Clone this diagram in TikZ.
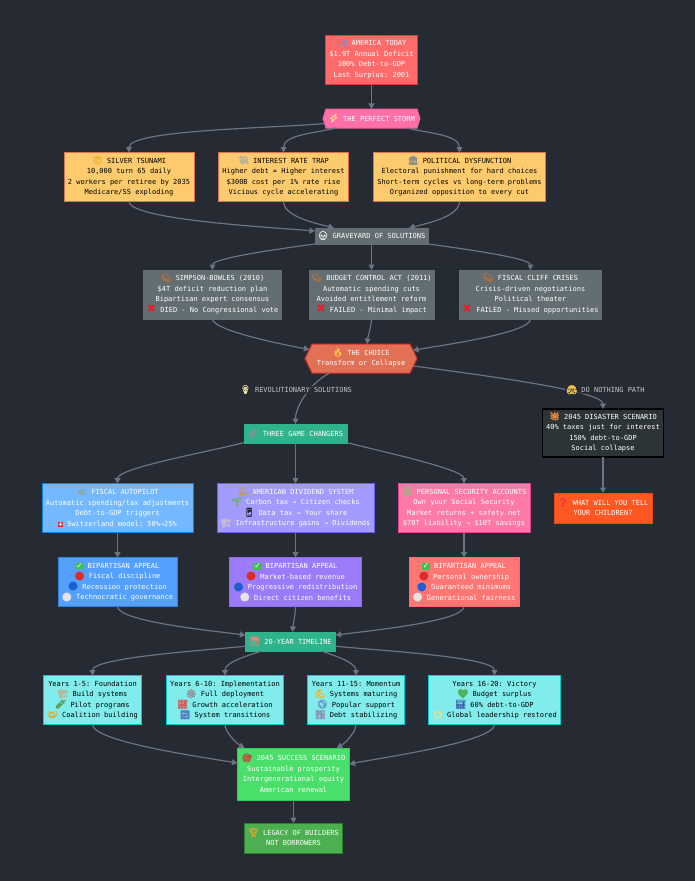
\documentclass[tikz,border=0pt]{standalone}
\usepackage{fontspec}
\setmonofont{DejaVu Sans Mono}
\newfontfamily\emojifont[FakeBold=1.6]{Noto Emoji}
\newfontfamily\markfont{DejaVu Sans}
\usetikzlibrary{arrows.meta,shapes.symbols}

\definecolor{bgdark}{HTML}{252A33}
\definecolor{edgegray}{HTML}{6B7485}
\definecolor{warnyellow}{HTML}{FDCB6E}
\definecolor{warnedge}{HTML}{E17055}
\definecolor{tombgray}{HTML}{636E72}
\definecolor{gamegreen}{HTML}{2FB38D}
\definecolor{yearcyan}{HTML}{81ECEC}
\definecolor{yearedge}{HTML}{00CEC9}
\definecolor{todayred}{HTML}{FF6B6B}
\definecolor{todayedge}{HTML}{E03A3A}
\definecolor{stormpink}{HTML}{FF6FA8}
\definecolor{stormedge}{HTML}{F560A0}
\definecolor{choiceedge}{HTML}{D63031}
\definecolor{doomdark}{HTML}{2D3436}
\definecolor{askorange}{HTML}{FF5722}
\definecolor{askedge}{HTML}{E64A19}
\definecolor{pilotblue}{HTML}{74B9FF}
\definecolor{pilotedge}{HTML}{0984E3}
\definecolor{divviolet}{HTML}{A29BFE}
\definecolor{divedge}{HTML}{6C5CE7}
\definecolor{secpink}{HTML}{FD79A8}
\definecolor{secedge}{HTML}{E84393}
\definecolor{appealblue}{HTML}{54A0FF}
\definecolor{appealblueedge}{HTML}{2E86DE}
\definecolor{appealviolet}{HTML}{9B7BFA}
\definecolor{appealvioletedge}{HTML}{8C6FF0}
\definecolor{appealred}{HTML}{FF7675}
\definecolor{winlight}{HTML}{4ADE6A}
\definecolor{winedge}{HTML}{35C956}
\definecolor{legacygreen}{HTML}{4CAF50}
\definecolor{legacyedge}{HTML}{2E7D32}
\newcommand{\emo}[2]{\smash{\textcolor[HTML]{#1}{\emojifont\fontsize{8.5}{10.5}\selectfont #2}}}
\newcommand{\okmark}{\smash{\fboxsep=.8pt\colorbox[HTML]{3CC24B}{\textcolor{white}{\markfont\fontsize{7.5}{7.5}\selectfont ✓}}}}
\newcommand{\nomark}{\smash{\textcolor[HTML]{E0202E}{\markfont\fontsize{11.5}{10.5}\selectfont\raisebox{-.8pt}{✖}}}}
\newcommand{\swissmark}{\smash{\fboxsep=.4pt\colorbox[HTML]{D52B1E}{\textcolor{white}{\markfont\fontsize{5}{6}\selectfont ✚}}}}
\newcommand{\ball}[1]{\smash{\textcolor[HTML]{#1}{\markfont\fontsize{11.5}{10.5}\selectfont\raisebox{-.5pt}{●}}}}
\newcommand{\redball}{\ball{E02A2A}}
\newcommand{\blueball}{\ball{1F5FD0}}
\newcommand{\whiteball}{\ball{E4E4E4}}

\tikzset{
  basebox/.style={rectangle,draw,line width=1pt,inner sep=0pt,outer sep=0pt,align=center,
    font=\ttfamily\fontsize{7}{10.5}\selectfont,minimum height=49pt},
  lightbox/.style 2 args={basebox,fill=#1,draw=#2,text=white},
  warnbox/.style={basebox,fill=warnyellow,draw=warnedge,text=black},
  tombbox/.style={basebox,fill=tombgray,draw=tombgray,text=white},
  yearbox/.style={basebox,fill=yearcyan,draw=yearedge,text=black},
  hexbox/.style={signal,signal to=east and west,draw,line width=1pt,inner sep=0pt,outer sep=0pt,align=center,
    font=\ttfamily\fontsize{7}{10.5}\selectfont},
  pathlabel/.style={font=\ttfamily\fontsize{7}{10.5}\selectfont,text=white!72!bgdark,inner sep=1pt,
    fill=bgdark,fill opacity=.7,text opacity=1},
  flow/.style={->,color=edgegray,line width=1.2pt}
}

\begin{document}
\begin{tikzpicture}[>={Triangle[length=5.5pt,width=6pt]},x=1pt,y=1pt]
  \fill[bgdark] (0,0) rectangle (695,-881);

  % top of the chart
  \node[lightbox={todayred}{todayedge},minimum width=92pt] (today) at (371.5,-59.5)
    {\emo{7C8FB8}{🇺🇸} AMERICA TODAY\\\$1.9T Annual Deficit\\100\% Debt-to-GDP\\Last Surplus: 2001};
  \node[hexbox,fill=stormpink,draw=stormedge,text=white,minimum width=97pt,minimum height=19pt,signal pointer angle=145]
    (storm) [below of=today,node distance=59pt] {\emo{FFE08A}{⚡} THE PERFECT STORM};

  \node[warnbox,minimum width=130pt] (tsunami) [below of=storm,node distance=58.5pt,xshift=-242.5pt]
    {\emo{E8B93A}{😰} SILVER TSUNAMI\\10,000 turn 65 daily\\2 workers per retiree by 2035\\Medicare/SS exploding};
  \node[warnbox,minimum width=130pt] (rate) [below of=storm,node distance=58.5pt,xshift=-88pt]
    {\emo{B9B39A}{💸} INTEREST RATE TRAP\\Higher debt = Higher interest\\\$300B cost per 1\% rate rise\\Vicious cycle accelerating};
  \node[warnbox,minimum width=172pt] (politics) [below of=storm,node distance=58.5pt,xshift=88pt]
    {\emo{8A8F8C}{🏛} POLITICAL DYSFUNCTION\\Electoral punishment for hard choices\\Short-term cycles vs long-term problems\\Organized opposition to every cut};

  \node[tombbox,minimum width=113pt,minimum height=16pt] (grave) [below of=storm,node distance=117.5pt]
    {\emo{F0F0F0}{💀} GRAVEYARD OF SOLUTIONS};
  \node[tombbox,minimum width=138pt] (simpson) [below of=grave,node distance=58.5pt,xshift=-159pt]
    {\emo{B5703A}{⚰} SIMPSON-BOWLES (2010)\\\$4T deficit reduction plan\\Bipartisan expert consensus\\\nomark{} DIED - No Congressional vote};
  \node[tombbox,minimum width=125pt] (budget) [below of=grave,node distance=58.5pt]
    {\emo{B5703A}{⚰} BUDGET CONTROL ACT (2011)\\Automatic spending cuts\\Avoided entitlement reform\\\nomark{} FAILED - Minimal impact};
  \node[tombbox,minimum width=142pt] (cliff) [below of=grave,node distance=58.5pt,xshift=159pt]
    {\emo{B5703A}{⚰} FISCAL CLIFF CRISES\\Crisis-driven negotiations\\Political theater\\\nomark{} FAILED - Missed opportunities};

  \node[hexbox,fill=warnedge,draw=choiceedge,text=white,minimum width=112pt,minimum height=29pt,signal pointer angle=128]
    (choice) [below of=budget,node distance=64pt,xshift=-10.5pt] {\emo{FFC04D}{🔥} THE CHOICE\\Transform or Collapse};

  % the two ways out
  \node[lightbox={gamegreen}{gamegreen},minimum width=103pt,minimum height=19pt] (game) [below of=choice,node distance=75pt,xshift=-65.5pt]
    {\emo{8D8D9A}{🚀} THREE GAME CHANGERS};
  \node[lightbox={doomdark}{black},line width=1.5pt,minimum width=121pt,minimum height=48pt] (disaster) [below of=choice,node distance=74.5pt,xshift=242pt]
    {\emo{F08A3C}{💥} 2045 DISASTER SCENARIO\\40\% taxes just for interest\\150\% debt-to-GDP\\Social collapse};
  \node[lightbox={askorange}{askedge},minimum width=98pt,minimum height=30pt] (question) [below of=disaster,node distance=75pt]
    {\emo{E53935}{❓} WHAT WILL YOU TELL\\YOUR CHILDREN?};

  \node[lightbox={pilotblue}{pilotedge},minimum width=151pt] (autopilot) [below of=game,node distance=74.5pt,xshift=-178pt]
    {\emo{8FA6A0}{🛸} FISCAL AUTOPILOT\\Automatic spending/tax adjustments\\Debt-to-GDP triggers\\\swissmark{} Switzerland model: 50\%→25\%};
  \node[lightbox={divviolet}{divedge},minimum width=157pt] (dividend) [below of=game,node distance=74.5pt]
    {\emo{C89B3C}{🔔} AMERICAN DIVIDEND SYSTEM\\\emo{6FAF5A}{🌱} Carbon tax → Citizen checks\\\emo{202428}{📱} Data tax → Your share\\\emo{C9B8D8}{🏗} Infrastructure gains → Dividends};
  \node[lightbox={secpink}{secedge},minimum width=132pt] (personal) [below of=game,node distance=74.5pt,xshift=168.5pt]
    {\emo{B0A78A}{🏦} PERSONAL SECURITY ACCOUNTS\\Own your Social Security\\Market returns + safety net\\\$70T liability → \$10T savings};

  \node[lightbox={appealblue}{appealblueedge},minimum width=119pt] (appeal1) [below of=autopilot,node distance=74pt]
    {\okmark{} BIPARTISAN APPEAL\\\redball{} Fiscal discipline\\\blueball{} Recession protection\\\whiteball{} Technocratic governance};
  \node[lightbox={appealviolet}{appealvioletedge},minimum width=132pt] (appeal2) [below of=dividend,node distance=74pt]
    {\okmark{} BIPARTISAN APPEAL\\\redball{} Market-based revenue\\\blueball{} Progressive redistribution\\\whiteball{} Direct citizen benefits};
  \node[lightbox={appealred}{todayred},minimum width=110pt] (appeal3) [below of=personal,node distance=74pt]
    {\okmark{} BIPARTISAN APPEAL\\\redball{} Personal ownership\\\blueball{} Guaranteed minimums\\\whiteball{} Generational fairness};

  % timeline and the end of it
  \node[lightbox={gamegreen}{gamegreen},minimum width=90pt,minimum height=19pt] (timeline) [below of=appeal2,node distance=59.5pt,xshift=-5pt]
    {\emo{D98A80}{📅} 20-YEAR TIMELINE};
  \node[yearbox,minimum width=98pt] (year1) [below of=timeline,node distance=58.5pt,xshift=-198pt]
    {Years 1-5: Foundation\\\emo{B8B89A}{🏗} Build systems\\\emo{5F9E5A}{🧪} Pilot programs\\\emo{E0A92E}{🤝} Coalition building};
  \node[yearbox,minimum width=117pt] (year2) [below of=timeline,node distance=58.5pt,xshift=-65.5pt]
    {Years 6-10: Implementation\\\emo{8A8F94}{⚙} Full deployment\\\emo{D9534F}{📈} Growth acceleration\\\emo{5B7FC0}{🔄} System transitions};
  \node[yearbox,minimum width=97pt] (year3) [below of=timeline,node distance=58.5pt,xshift=65.5pt]
    {Years 11-15: Momentum\\\emo{F0B429}{💪} Systems maturing\\\emo{6A9AC8}{🌍} Popular support\\\emo{8A8FB0}{📉} Debt stabilizing};
  \node[yearbox,minimum width=132pt] (year4) [below of=timeline,node distance=58.5pt,xshift=204pt]
    {Years 16-20: Victory\\\emo{4CAF50}{💚} Budget surplus\\\emo{3B5FA8}{📊} 60\% debt-to-GDP\\\emo{F7DE7A}{🌟} Global leadership restored};

  \node[lightbox={winlight}{winedge},minimum width=112pt,minimum height=52pt] (success) [below of=timeline,node distance=132.5pt,xshift=3pt]
    {\emo{C8443C}{🎯} 2045 SUCCESS SCENARIO\\Sustainable prosperity\\Intergenerational equity\\American renewal};
  \node[lightbox={legacygreen}{legacyedge},minimum width=98pt,minimum height=30pt] (legacy) [below of=success,node distance=64pt]
    {\emo{D9A52E}{🏆} LEGACY OF BUILDERS\\NOT BORROWERS};

  \path[flow] (today) edge (storm)
        (storm.186) edge [out=186,in=90,out looseness=.6,in looseness=.3] (tsunami.north)
        (storm.195) edge [out=195,in=90,looseness=.8] (rate.north)
        (storm.345) edge [out=345,in=90,looseness=.8] (politics.north)
        (tsunami.south) edge [out=-90,in=175,out looseness=.25,in looseness=.5] (grave.175)
        (rate.south) edge [out=-90,in=165,looseness=.7] (grave.168)
        (politics.south) edge [out=-90,in=15,looseness=.7] (grave.12)
        (grave.188) edge [out=188,in=90,out looseness=.6,in looseness=.3] (simpson.north)
        (grave) edge (budget)
        (grave.352) edge [out=352,in=90,out looseness=.6,in looseness=.3] (cliff.north)
        (simpson.south) edge [out=-90,in=170,out looseness=.3,in looseness=.5] (choice.170)
        (budget.south) edge [out=-90,in=85,looseness=.6] (choice.67)
        (cliff.south) edge [out=-90,in=10,out looseness=.3,in looseness=.5] (choice.9)
        (choice.205) edge [out=205,in=90,looseness=.8] (game.north)
        (choice.352) edge [out=352,in=90,out looseness=.7,in looseness=.25] (disaster.north)
        (disaster) edge (question)
        (game.190) edge [out=195,in=90,out looseness=.6,in looseness=.3] (autopilot.north)
        (game) edge (dividend)
        (game.350) edge [out=345,in=90,out looseness=.6,in looseness=.3] (personal.north)
        (autopilot) edge (appeal1)
        (dividend) edge (appeal2)
        (personal) edge (appeal3)
        (appeal1.south) edge [out=-90,in=172,out looseness=.3,in looseness=.5] (timeline.172)
        (appeal2.south) edge [out=-90,in=85,looseness=.6] (timeline.78)
        (appeal3.south) edge [out=-90,in=8,out looseness=.3,in looseness=.5] (timeline.8)
        (timeline.186) edge [out=186,in=90,out looseness=.6,in looseness=.3] (year1.north)
        (timeline.198) edge [out=200,in=90,looseness=.8] (year2.north)
        (timeline.343) edge [out=340,in=90,looseness=.8] (year3.north)
        (timeline.354) edge [out=354,in=90,out looseness=.6,in looseness=.3] (year4.north)
        (year1.south) edge [out=-90,in=170,out looseness=.3,in looseness=.5] (success.169)
        (year2.south) edge [out=-90,in=150,looseness=.7] (success.152)
        (year3.south) edge [out=-90,in=30,looseness=.7] (success.31)
        (year4.south) edge [out=-90,in=12,out looseness=.3,in looseness=.5] (success.10)
        (success) edge (legacy);

  \node[pathlabel] (revlabel) [below of=choice,node distance=31.5pt,xshift=-65pt]
    {\emo{F5E6A8}{💡} REVOLUTIONARY SOLUTIONS};
  \node[pathlabel] (nothinglabel) [below of=choice,node distance=31.5pt,xshift=244.5pt]
    {\emo{F2C14E}{😱} DO NOTHING PATH};
\end{tikzpicture}
\end{document}
